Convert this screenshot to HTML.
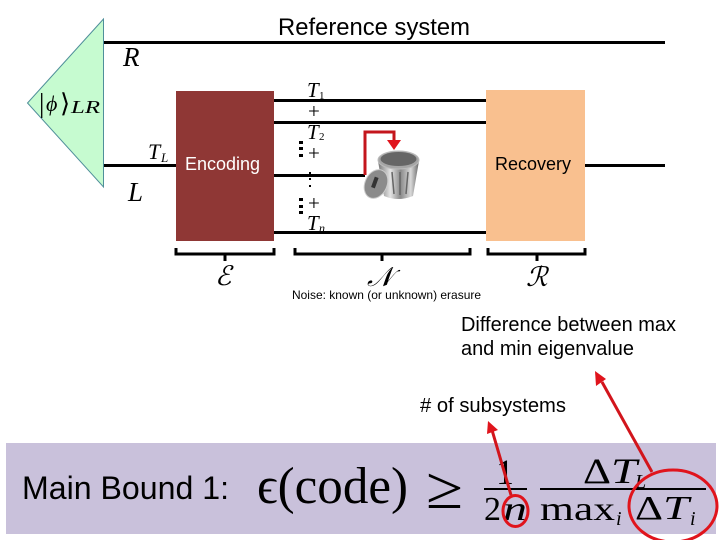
<!DOCTYPE html>
<html><head><meta charset="utf-8"><style>
html,body{margin:0;padding:0;background:#fff}
svg{display:block}
.s{font-family:"Liberation Sans",sans-serif}
.m{font-family:"Liberation Serif",serif;font-style:italic}
.r{font-family:"Liberation Serif",serif}
</style></head><body>
<svg width="720" height="540" viewBox="0 0 720 540" xmlns="http://www.w3.org/2000/svg">
<defs>
<linearGradient id="can" x1="0" x2="1" y1="0" y2="0"><stop offset="0" stop-color="#777"/><stop offset=".3" stop-color="#e4e4e4"/><stop offset=".55" stop-color="#8a8a8a"/><stop offset=".8" stop-color="#d8d8d8"/><stop offset="1" stop-color="#666"/></linearGradient>
</defs>
<rect width="720" height="540" fill="#fff"/>
<polygon points="103.500,19 27.500,103 103.500,187" fill="#c6fbd0" stroke="#4f8f9a" stroke-width="1"/>
<g stroke="#000" stroke-width="3" fill="none">
<path d="M104 42.500H665M104 165.500H177M273 100.500H487M273 122.500H487M273 175.500H365M273 232.500H487M584 165.500H665"/>
</g>
<rect x="176" y="91" width="98" height="150" fill="#8f3735"/>
<rect x="486" y="90" width="99" height="151" fill="#f9c08f"/>
<text x="278" y="35" class="s" font-size="24" textLength="192" lengthAdjust="spacingAndGlyphs" fill="#000">Reference system</text>
<text x="185" y="170" class="s" font-size="18" textLength="75" lengthAdjust="spacingAndGlyphs" fill="#fff">Encoding</text>
<text x="495" y="170" class="s" font-size="18" textLength="76" lengthAdjust="spacingAndGlyphs" fill="#000">Recovery</text>
<text x="123" y="66" class="m" font-size="27">R</text>
<text x="128" y="201" class="m" font-size="27">L</text>
<text x="148" y="159" class="m" font-size="22">T</text><text x="161" y="162" class="m" font-size="13">L</text>
<text x="39" y="112" class="r" font-size="27">|</text><text x="46" y="111" class="m" font-size="22">ϕ</text><text x="60" y="112" class="r" font-size="26">⟩</text><text x="71" y="113" class="m" font-size="18" textLength="29" lengthAdjust="spacingAndGlyphs">LR</text>
<text x="307" y="97" class="m" font-size="21">T</text><text x="319" y="99" class="r" font-size="11">1</text>
<text x="308" y="118" class="r" font-size="21">+</text>
<text x="307" y="139" class="m" font-size="21">T</text><text x="319" y="140" class="r" font-size="11">2</text>
<text x="308" y="160" class="r" font-size="21">+</text>
<text x="308" y="210" class="r" font-size="21">+</text>
<text x="307" y="230" class="m" font-size="21">T</text><text x="319" y="232" class="m" font-size="12">n</text>
<g fill="#000">
<rect x="299" y="141" width="4" height="3"/><rect x="299" y="147" width="4" height="3"/><rect x="299" y="154" width="4" height="3"/>
<rect x="299" y="198" width="4" height="3"/><rect x="299" y="205" width="4" height="3"/><rect x="299" y="211" width="4" height="3"/>
<rect x="309" y="172" width="2" height="2"/><rect x="309" y="178" width="2" height="2"/><rect x="309" y="185" width="2" height="2"/>
</g>
<path d="M365 175V132H394V142" fill="none" stroke="#c4161c" stroke-width="3"/>
<polygon points="387,140 401,140 394,150" fill="#e0141c"/>
<path d="M378 161L419 161L413 196Q398 202 384 196Z" fill="url(#can)"/>
<ellipse cx="398.500" cy="160" rx="20.500" ry="9" fill="#a5a5a5" stroke="#bbb"/>
<ellipse cx="398.500" cy="159" rx="18" ry="7" fill="#666"/>
<g stroke="#666" stroke-width="1.500"><path d="M392 172L394 194M400 172V195M408 172L406 194"/></g>
<ellipse cx="376" cy="184" rx="11" ry="15" transform="rotate(25 376 184)" fill="#8b8b8b" stroke="#ccc"/>
<rect x="373" y="177" width="4" height="11" fill="#333" transform="rotate(20 375 182)"/>
<g fill="none" stroke="#000" stroke-width="3">
<path d="M176 248V254H274V248M225 254V261"/>
<path d="M295 248V254H470V248M382 254V261"/>
<path d="M488 248V254H585V248M537 254V261"/>
</g>
<text x="215" y="285" class="m" font-size="27">ℰ</text>
<text x="367" y="286" class="m" font-size="27">𝒩</text>
<text x="526" y="286" class="m" font-size="27">ℛ</text>
<text x="292" y="299" class="s" font-size="12" textLength="189" lengthAdjust="spacingAndGlyphs">Noise: known (or unknown) erasure</text>
<text x="461" y="331" class="s" font-size="20" textLength="215" lengthAdjust="spacingAndGlyphs">Difference between max</text>
<text x="461" y="355" class="s" font-size="20" textLength="173" lengthAdjust="spacingAndGlyphs">and min eigenvalue</text>
<text x="420" y="412" class="s" font-size="20" textLength="146" lengthAdjust="spacingAndGlyphs"># of subsystems</text>
<rect x="6" y="443" width="710" height="91" fill="#c9c1db"/>
<text x="22" y="499" class="s" font-size="32" textLength="207" lengthAdjust="spacingAndGlyphs">Main Bound 1:</text>
<text x="257" y="503" class="r" font-size="52" textLength="151" lengthAdjust="spacingAndGlyphs">ϵ(code)</text>
<text x="426" y="508" class="r" font-size="60" textLength="37" lengthAdjust="spacingAndGlyphs">≥</text>
<text x="496" y="484" class="r" font-size="36">1</text>
<rect x="484" y="488" width="43" height="2" fill="#000"/>
<rect x="540" y="488" width="166" height="2" fill="#000"/>
<text x="484" y="520" class="r" font-size="34">2</text><text x="503" y="520" class="m" font-size="34" textLength="24" lengthAdjust="spacingAndGlyphs">n</text>
<text x="583" y="483" class="r" font-size="36" textLength="28" lengthAdjust="spacingAndGlyphs">Δ</text><text x="611" y="483" class="m" font-size="36" textLength="26" lengthAdjust="spacingAndGlyphs">T</text><text x="635" y="488" class="m" font-size="20">L</text>
<text x="540" y="520" class="r" font-size="34" textLength="75" lengthAdjust="spacingAndGlyphs">max</text><text x="616" y="525" class="m" font-size="20">i</text>
<text x="635" y="519" class="r" font-size="34" textLength="28" lengthAdjust="spacingAndGlyphs">Δ</text><text x="663" y="519" class="m" font-size="34" textLength="26" lengthAdjust="spacingAndGlyphs">T</text><text x="690" y="525" class="m" font-size="20">i</text>
<g fill="none" stroke="#e0141c" stroke-width="3">
<ellipse cx="515.500" cy="511" rx="12.500" ry="15.500"/>
<ellipse cx="673" cy="506" rx="44" ry="36"/>
</g>
<g stroke="#d2151c" stroke-width="3"><path d="M511 495L492 430M652 472L602 382"/></g>
<polygon points="488,421 498,430 487,434" fill="#e0141c"/>
<polygon points="595,371 606,379 596,386" fill="#e0141c"/>
</svg>
</body></html>
